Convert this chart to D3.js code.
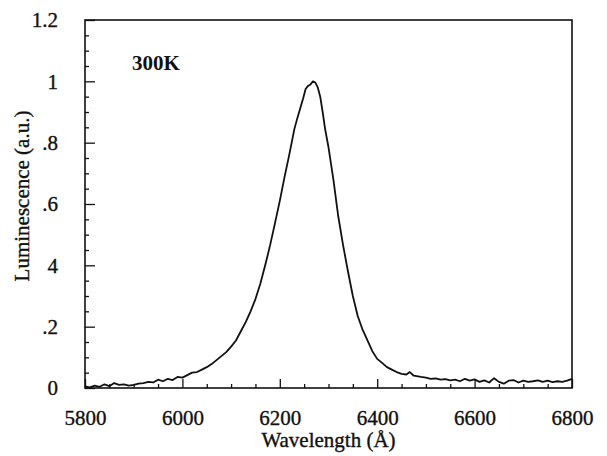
<!DOCTYPE html>
<html><head><meta charset="utf-8">
<script src="https://cdn.jsdelivr.net/npm/d3@7"></script>
<style>body{margin:0;background:#fff}svg{display:block}text{font-family:"Liberation Serif","Times New Roman",serif;fill:#111}</style>
</head><body>
<script>
const wavelengths = [5800,5810,5820,5830,5840,5850,5860,5870,5880,5890,5900,5910,5920,5930,5940,5950,5960,5970,5980,5990,6000,6010,6020,6030,6040,6050,6060,6070,6080,6090,6100,6110,6120,6130,6140,6150,6160,6170,6180,6190,6200,6210,6220,6230,6236,6242,6248,6253,6258,6263,6268,6273,6278,6283,6288,6293,6300,6310,6320,6330,6340,6350,6360,6370,6380,6390,6400,6410,6420,6430,6440,6450,6460,6467,6475,6490,6500,6510,6520,6530,6540,6550,6560,6570,6580,6590,6600,6610,6620,6630,6640,6650,6660,6670,6680,6690,6700,6710,6720,6730,6740,6750,6760,6770,6780,6790,6800];
const luminescence = [0.005,0.002,0.008,0.004,0.012,0.006,0.016,0.010,0.012,0.008,0.010,0.014,0.016,0.020,0.018,0.027,0.022,0.030,0.026,0.036,0.034,0.042,0.050,0.052,0.060,0.068,0.078,0.091,0.104,0.117,0.135,0.155,0.185,0.215,0.250,0.290,0.340,0.400,0.465,0.537,0.610,0.690,0.765,0.845,0.880,0.912,0.945,0.975,0.985,0.990,1.000,0.996,0.980,0.950,0.900,0.845,0.785,0.680,0.560,0.465,0.380,0.300,0.235,0.190,0.155,0.120,0.095,0.082,0.068,0.060,0.052,0.046,0.044,0.052,0.040,0.036,0.034,0.030,0.031,0.027,0.029,0.025,0.027,0.022,0.030,0.024,0.028,0.020,0.025,0.018,0.032,0.020,0.014,0.024,0.026,0.018,0.024,0.020,0.022,0.025,0.020,0.024,0.019,0.022,0.020,0.024,0.030];
const xTicks = [5800,6000,6200,6400,6600,6800];
const xTickLabels = ["5800","6000","6200","6400","6600","6800"];
const yTicks = [0,0.2,0.4,0.6,0.8,1,1.2];
const yTickLabels = ["0",".2","4",".6",".8","1","1.2"];
const annotation = "300K";
const xTitle = "Wavelength (Å)";
const yTitle = "Luminescence (a.u.)";

const W = 607, H = 456;
const m = {left:85, right:35, top:20, bottom:68};
const svg = d3.select("body").append("svg").attr("width",W).attr("height",H);
const x = d3.scaleLinear().domain([5800,6800]).range([m.left, W-m.right]);
const y = d3.scaleLinear().domain([0,1.2]).range([H-m.bottom, m.top]);

// frame
svg.append("rect").attr("x",x(5800)).attr("y",y(1.2)).attr("width",x(6800)-x(5800)).attr("height",y(0)-y(1.2))
  .attr("fill","none").attr("stroke","#111").attr("stroke-width",1.6);

// x ticks (inward)
const xMinor = d3.range(5850,6800,50).filter(v=>!xTicks.includes(v));
svg.append("g").attr("transform",`translate(0,${y(0)})`)
  .call(d3.axisBottom(x).tickValues(xMinor).tickSize(-4).tickFormat(""))
  .call(g=>g.select(".domain").remove()).selectAll("line").attr("stroke","#111").attr("stroke-width",1.3);
svg.append("g").attr("transform",`translate(0,${y(0)})`)
  .call(d3.axisBottom(x).tickValues(xTicks).tickSize(-9).tickPadding(22).tickFormat((d,i)=>xTickLabels[i]))
  .call(g=>g.select(".domain").remove())
  .call(g=>g.selectAll("line").attr("stroke","#111").attr("stroke-width",1.3))
  .call(g=>g.selectAll("text").attr("font-size",21).attr("fill","#111").attr("stroke","#111").attr("stroke-width",0.35).attr("font-family","Liberation Serif"));

// y ticks
const yMinor = d3.range(0.05,1.2,0.05).filter(v=>Math.abs(v*5-Math.round(v*5))>1e-6);
svg.append("g").attr("transform",`translate(${x(5800)},0)`)
  .call(d3.axisLeft(y).tickValues(yMinor).tickSize(-4).tickFormat(""))
  .call(g=>g.select(".domain").remove()).selectAll("line").attr("stroke","#111").attr("stroke-width",1.3);
svg.append("g").attr("transform",`translate(${x(5800)},0)`)
  .call(d3.axisLeft(y).tickValues(yTicks).tickSize(-10).tickPadding(27).tickFormat((d,i)=>yTickLabels[i]))
  .call(g=>g.select(".domain").remove())
  .call(g=>g.selectAll("line").attr("stroke","#111").attr("stroke-width",1.3))
  .call(g=>g.selectAll("text").attr("font-size",21).attr("fill","#111").attr("stroke","#111").attr("stroke-width",0.35).attr("font-family","Liberation Serif"));

// curve
const pts = wavelengths.map((w,i)=>[w,luminescence[i]]);
svg.append("path").datum(pts)
  .attr("d",d3.line().x(d=>x(d[0])).y(d=>y(d[1])))
  .attr("fill","none").attr("stroke","#111").attr("stroke-width",1.8).attr("stroke-linejoin","round");

// annotation
svg.append("text").attr("x",132).attr("y",70).attr("font-size",21).attr("font-weight","bold").text(annotation);

// titles
svg.append("text").attr("x",(x(5800)+x(6800))/2).attr("y",447).attr("text-anchor","middle").attr("font-size",21).attr("stroke","#111").attr("stroke-width",0.35).text(xTitle);
svg.append("text").attr("transform",`translate(29,196) rotate(-90)`).attr("text-anchor","middle").attr("font-size",21).attr("stroke","#111").attr("stroke-width",0.35).text(yTitle);
</script>
</body></html>
